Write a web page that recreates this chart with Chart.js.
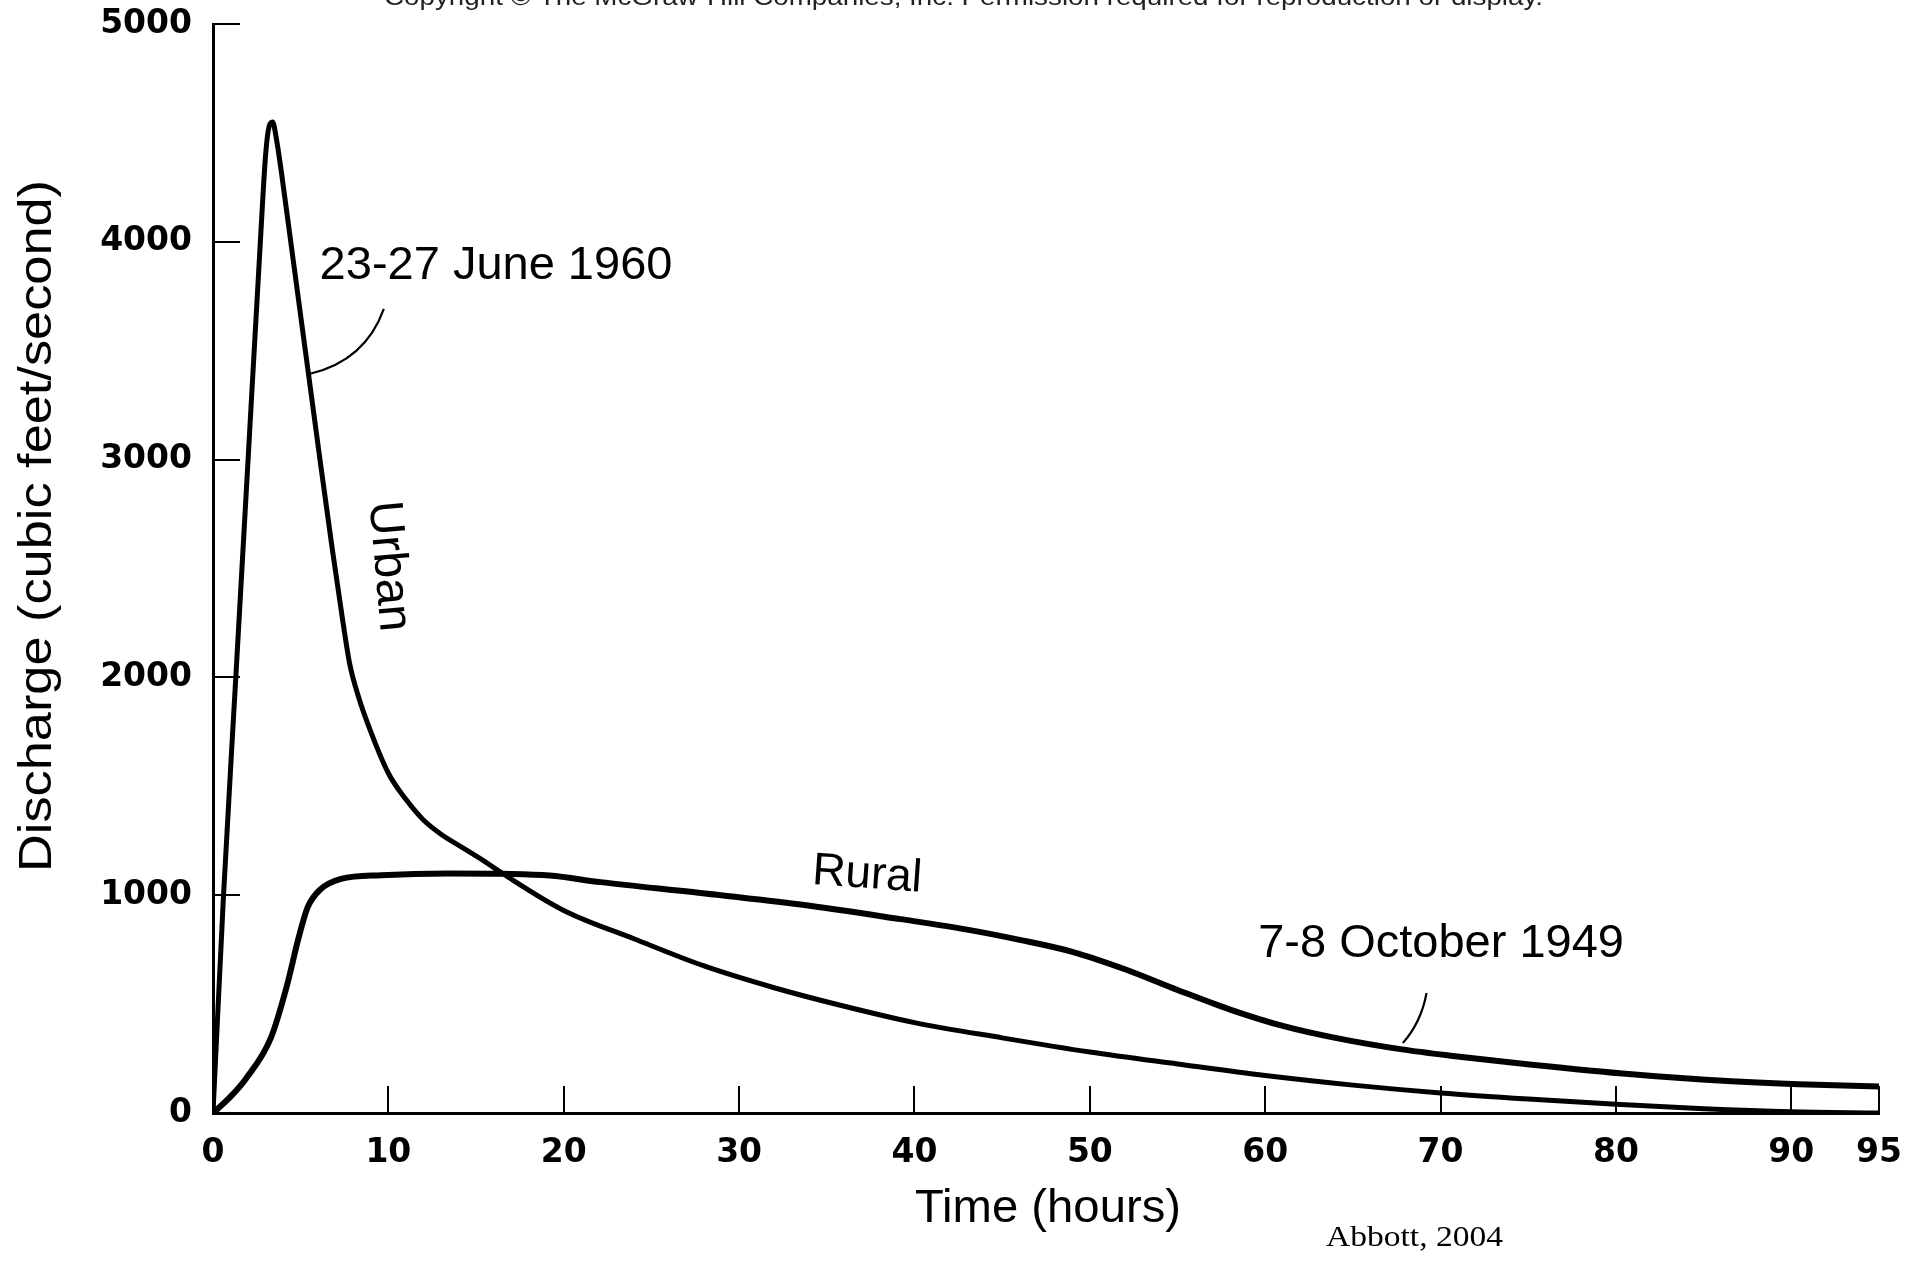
<!DOCTYPE html>
<html>
<head>
<meta charset="utf-8">
<script src="https://cdn.jsdelivr.net/npm/chart.js@4/dist/chart.umd.min.js"></script>
<style>
  html, body { margin: 0; padding: 0; background: #fff; }
  #wrap { width: 1913px; height: 1267px; position: relative; }
  canvas { display: block; }
</style>
</head>
<body>
<div id="wrap"><canvas id="c" width="1913" height="1267"></canvas></div>
<script>
// ---- Data ----
const urbanHours = [0, 0.6, 1.3, 2.0, 2.7, 3.0, 3.2, 3.4, 3.6, 3.9, 4.5, 5.4, 6.1, 6.8, 7.4, 7.8, 8.3, 9.0, 10, 11, 12, 13, 14.2, 15.4, 16.6, 20, 24, 28, 32, 36, 40, 45, 50, 55, 60, 65, 70, 75, 80, 85, 90, 95];
const urbanDischarge = [0, 1000, 2000, 3000, 4000, 4400, 4530, 4550, 4480, 4320, 3960, 3420, 3000, 2590, 2260, 2060, 1910, 1750, 1560, 1440, 1345, 1280, 1220, 1160, 1095, 930, 800, 675, 575, 490, 415, 345, 280, 225, 172, 128, 92, 64, 40, 20, 6, 0];

const ruralHours = [0, 1, 1.9, 3.3, 4.2, 4.9, 5.4, 6.1, 7.3, 9.6, 13.4, 16.5, 19.2, 22.1, 27.8, 33.5, 39.2, 43, 46, 49, 52, 55, 58, 61, 64, 67.8, 70.7, 75.2, 80.9, 86.6, 90.4, 95];
const ruralDischarge = [0, 75, 160, 345, 580, 810, 945, 1025, 1075, 1092, 1100, 1098, 1090, 1060, 1010, 957, 890, 842, 795, 740, 660, 565, 475, 400, 345, 292, 262, 222, 178, 146, 132, 122];

const xTickValues = [0, 10, 20, 30, 40, 50, 60, 70, 80, 90, 95];
const yTickValues = [0, 1000, 2000, 3000, 4000, 5000];

const xTitle = 'Time (hours)';
const yTitle = 'Discharge (cubic feet/second)';
const sourceNote = 'Abbott, 2004';
const copyrightNote = 'Copyright \u00A9 The McGraw-Hill Companies, Inc. Permission required for reproduction or display.';

// annotations in data units [hours, discharge]
const labelJune = { text: '23-27 June 1960', at: [6.08, 3829] };
const labelUrban = { text: 'Urban', at: [10.0, 2510] };
const labelRural = { text: 'Rural', at: [37.3, 1092] };
const labelOct = { text: '7-8 October 1949', at: [59.6, 716] };
const leaderJune = [[9.74, 3692], [8.69, 3455], [5.54, 3394]];
const leaderOct = [[69.2, 551], [68.9, 418], [67.85, 321]];

const toXY = (xs, ys) => xs.map((x, i) => ({ x: x, y: ys[i] }));

function fitText(ctx, text, x, y, targetW, align) {
  const w = ctx.measureText(text).width;
  const sx = targetW / w;
  ctx.save();
  ctx.translate(x, y);
  ctx.scale(sx, 1);
  ctx.textAlign = align || 'left';
  ctx.fillText(text, 0, 0);
  ctx.restore();
}

const annotationPlugin = {
  id: 'annotations',
  afterDraw(chart) {
    const ctx = chart.ctx;
    const xs = chart.scales.x, ys = chart.scales.y;
    const px = v => xs.getPixelForValue(v);
    const py = v => ys.getPixelForValue(v);
    ctx.save();
    ctx.fillStyle = '#000';
    ctx.strokeStyle = '#000';
    ctx.textBaseline = 'alphabetic';

    // copyright line (cut at top edge)
    ctx.font = '24px "Liberation Sans", Arial, sans-serif';
    ctx.fillStyle = '#222';
    fitText(ctx, copyrightNote, 384, 5, 1159, 'left');
    ctx.fillStyle = '#000';

    // annotations
    ctx.font = '47px "Liberation Sans", Arial, sans-serif';
    ctx.textAlign = 'left';
    ctx.fillText(labelJune.text, px(labelJune.at[0]), py(labelJune.at[1]));
    ctx.fillText(labelOct.text, px(labelOct.at[0]), py(labelOct.at[1]));

    ctx.save();
    ctx.translate(px(labelRural.at[0]), py(labelRural.at[1]));
    ctx.rotate(4 * Math.PI / 180);
    ctx.textAlign = 'center';
    ctx.textBaseline = 'middle';
    ctx.font = '46px "Liberation Sans", Arial, sans-serif';
    ctx.fillText(labelRural.text, 0, 0);
    ctx.restore();

    ctx.save();
    ctx.translate(px(labelUrban.at[0]), py(labelUrban.at[1]));
    ctx.rotate(85 * Math.PI / 180);
    ctx.textAlign = 'center';
    ctx.textBaseline = 'middle';
    ctx.font = '48px "Liberation Sans", Arial, sans-serif';
    ctx.fillText(labelUrban.text, 0, 0);
    ctx.restore();

    // leader lines
    ctx.lineWidth = 2.2;
    [leaderJune, leaderOct].forEach(L => {
      ctx.beginPath();
      ctx.moveTo(px(L[0][0]), py(L[0][1]));
      ctx.quadraticCurveTo(px(L[1][0]), py(L[1][1]), px(L[2][0]), py(L[2][1]));
      ctx.stroke();
    });

    // axis titles
    ctx.font = '47px "Liberation Sans", Arial, sans-serif';
    ctx.textBaseline = 'alphabetic';
    fitText(ctx, xTitle, 1048, 1222, 266, 'center');

    ctx.save();
    ctx.translate(37 + 14, 526);
    ctx.rotate(-Math.PI / 2);
    const w = ctx.measureText(yTitle).width;
    ctx.scale(692 / w, 1);
    ctx.textAlign = 'center';
    ctx.fillText(yTitle, 0, 0);
    ctx.restore();

    // source note
    ctx.font = '30px "Liberation Serif", "Times New Roman", serif';
    fitText(ctx, sourceNote, 1326, 1246, 177, 'left');

    ctx.restore();
  }
};

function zeroPad(s) {
  s.paddingTop = 0; s.paddingBottom = 0; s.paddingLeft = 0; s.paddingRight = 0;
}

const chart = new Chart(document.getElementById('c'), {
  type: 'scatter',
  data: {
    datasets: [
      {
        label: 'Urban (23-27 June 1960)',
        data: toXY(urbanHours, urbanDischarge),
        showLine: true,
        borderColor: '#000',
        borderWidth: 5,
        pointRadius: 0,
        cubicInterpolationMode: 'monotone',
        fill: false
      },
      {
        label: 'Rural (7-8 October 1949)',
        data: toXY(ruralHours, ruralDischarge),
        showLine: true,
        borderColor: '#000',
        borderWidth: 6,
        pointRadius: 0,
        cubicInterpolationMode: 'monotone',
        fill: false
      }
    ]
  },
  options: {
    responsive: false,
    devicePixelRatio: 1,
    animation: false,
    layout: { padding: { top: 24, right: 34, left: 0, bottom: 0 } },
    plugins: { legend: { display: false }, tooltip: { enabled: false }, title: { display: false } },
    scales: {
      x: {
        type: 'linear',
        min: 0,
        max: 95,
        afterBuildTicks: s => { s.ticks = xTickValues.map(v => ({ value: v })); },
        afterFit: s => { s.height = 154; zeroPad(s); },
        border: { display: true, color: '#000', width: 3 },
        grid: { display: true, drawOnChartArea: false, drawTicks: true, tickLength: -27, color: '#000', lineWidth: 2 },
        ticks: {
          autoSkip: false, maxRotation: 0, minRotation: 0, padding: 48,
          color: '#000',
          font: { family: '"DejaVu Sans", sans-serif', size: 33, weight: 'bold' },
          callback: v => String(v)
        }
      },
      y: {
        type: 'linear',
        min: 0,
        max: 5000,
        afterBuildTicks: s => { s.ticks = yTickValues.map(v => ({ value: v })); },
        afterFit: s => { s.width = 213; zeroPad(s); },
        border: { display: true, color: '#000', width: 3 },
        grid: { display: true, drawOnChartArea: false, drawTicks: true, tickLength: -27, color: '#000', lineWidth: 2 },
        ticks: {
          autoSkip: false, padding: 48,
          color: '#000',
          font: { family: '"DejaVu Sans", sans-serif', size: 33, weight: 'bold' },
          callback: v => String(v)
        }
      }
    }
  },
  plugins: [annotationPlugin]
});
</script>
</body>
</html>
